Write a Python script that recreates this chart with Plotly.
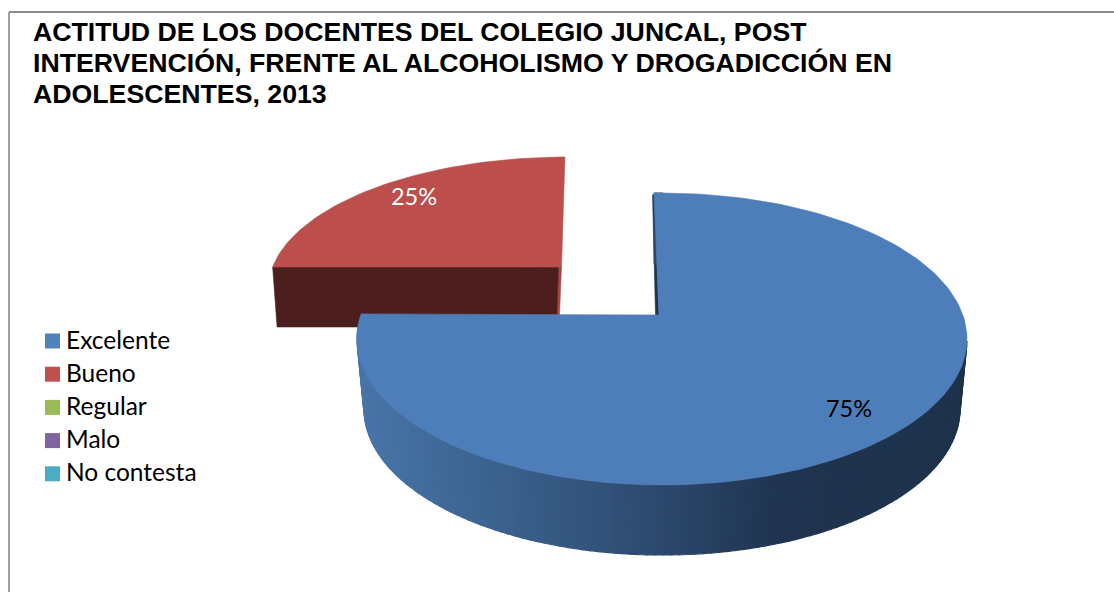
import math
import plotly.graph_objects as go

# ---------- data ----------
categories = ["Excelente", "Bueno", "Regular", "Malo", "No contesta"]
percentages = [75, 25, 0, 0, 0]
legend_colors = ["#4F81BD", "#C0504D", "#9BBB59", "#8064A2", "#4BACC6"]
title_lines = [
    "ACTITUD DE LOS DOCENTES DEL COLEGIO JUNCAL, POST",
    "INTERVENCIÓN, FRENTE AL ALCOHOLISMO Y DROGADICCIÓN EN",
    "ADOLESCENTES, 2013",
]

# ---------- drawing constants (pixel space of the page) ----------
W, H = 1114, 592
TOP_BLUE, TOP_RED = "#4D7EBA", "#BC4F4B"
# ellipse of each pulled slice; the apex sits above the ellipse centre because of the perspective
BLUE = dict(cx=662, cy=339, rx=305, ry=146, lx=298 / 305, wall=70, apex=(659, 315), start=-1.5, end=279.9)
RED = dict(cx=567, cy=289, rx=298.5, ry=132, lx=0.985, wall=60, apex=(561.5, 267), start=279.6, end=359.6)


def point(g, phi):
    t = math.radians(phi)
    return g["cx"] + g["rx"] * math.sin(t), g["cy"] - g["ry"] * math.cos(t)


def project(g, frac):
    """frac = 0..1 along the slice's own arc, set by the slice's value."""
    return point(g, g["start"] + (g["end"] - g["start"]) * frac)


def wall_pt(g, p):
    return g["cx"] + (p[0] - g["cx"]) * g["lx"], p[1] + g["wall"]


def poly(pts, color, width=0.6):
    xs = [p[0] for p in pts] + [pts[0][0]]
    ys = [p[1] for p in pts] + [pts[0][1]]
    return go.Scatter(
        x=xs, y=ys, mode="lines", fill="toself", fillcolor=color,
        line=dict(color=color, width=width),
        hoverinfo="skip", showlegend=False,
    )


def lerp(a, b, t):
    return tuple(int(round(a[i] + (b[i] - a[i]) * t)) for i in range(3))


def shade(x):
    stops = [(360, (72, 116, 168)), (480, (60, 100, 144)), (640, (46, 76, 114)),
             (780, (31, 52, 79)), (970, (30, 50, 76))]
    for (x0, c0), (x1, c1) in zip(stops, stops[1:]):
        if x <= x1:
            t = max(0, (x - x0) / (x1 - x0))
            return "rgb(%d,%d,%d)" % lerp(c0, c1, t)
    return "rgb(30,50,76)"


fig = go.Figure()

# number of arc steps follows each slice's share
total = sum(percentages)
blue_steps = int(round(240 * percentages[0] / total))
red_steps = int(round(240 * percentages[1] / total))
blue_arc = [project(BLUE, i / blue_steps) for i in range(blue_steps + 1)]
red_arc = [project(RED, i / red_steps) for i in range(red_steps + 1)]

# red slice: inner sliver, front cut wall, top
r_left = red_arc[0]
r_apex = RED["apex"]
fig.add_trace(poly([r_apex, (r_apex[0] - 2.5, r_apex[1] + RED["wall"]),
                    (r_apex[0] - 5, r_apex[1] + RED["wall"]), (r_apex[0] - 3, r_apex[1])], "#A84845"))
fig.add_trace(poly([r_left, (r_apex[0] - 3, r_apex[1]), (r_apex[0] - 5, r_apex[1] + RED["wall"]),
                    wall_pt(RED, r_left)], "#4C1F1E"))
fig.add_trace(poly([r_apex] + red_arc, TOP_RED))

# blue slice: inner sliver, curved wall split in shaded strips, top
b_apex = BLUE["apex"]
b_back = blue_arc[0]
fig.add_trace(poly([(b_back[0], b_back[1] + 2), b_apex, (b_apex[0] - 3.5, b_apex[1]),
                    (b_back[0] - 1.5, b_back[1] + 2)], "#1F344F"))
for p0, p1 in zip(blue_arc[:-1], blue_arc[1:]):
    if p0[1] < BLUE["cy"]:
        if p0[0] > BLUE["cx"]:
            continue
    fig.add_trace(poly([p0, p1, wall_pt(BLUE, p1), wall_pt(BLUE, p0)],
                       shade((p0[0] + p1[0]) / 2), width=1.2))
fig.add_trace(poly([b_apex] + blue_arc, TOP_BLUE))

# value labels
fig.add_trace(go.Scatter(
    x=[849, 414], y=[411, 199], mode="text",
    text=[f"{percentages[0]}%", f"{percentages[1]}%"],
    textfont=dict(family="Lato", size=23.5, color=["#000000", "#FFFFFF"]),
    hoverinfo="skip", showlegend=False,
))

# legend, set out as keyed rows
legend_rows = [341 + 33.2 * i for i in range(len(categories))]
fig.add_trace(go.Scatter(
    x=[52.5] * len(categories), y=legend_rows, mode="markers",
    marker=dict(symbol="square", size=15, color=legend_colors, line=dict(width=0)),
    hovertext=categories, hoverinfo="text", showlegend=False,
))
fig.add_trace(go.Scatter(
    x=[66] * len(categories), y=[r + 1.5 for r in legend_rows], mode="text",
    text=categories, textposition="middle right",
    textfont=dict(family="Lato", size=24.5, color="#000000"),
    hoverinfo="skip", showlegend=False,
))

fig.update_layout(
    width=W, height=H,
    margin=dict(l=0, r=0, t=0, b=0),
    paper_bgcolor="#FFFFFF", plot_bgcolor="#FFFFFF",
    showlegend=False,
    xaxis=dict(range=[0, W], visible=False, fixedrange=True),
    yaxis=dict(range=[H, 0], visible=False, fixedrange=True),
    annotations=[
        dict(text=line, x=30.5, y=yy, xref="x", yref="y", xanchor="left", yanchor="middle",
             align="left", showarrow=False,
             font=dict(family="Liberation Sans", size=26.7, color="#000000", weight="bold"))
        for line, yy in zip(title_lines, [31.5, 62.5, 93.5])
    ],
    shapes=[
        dict(type="line", xref="x", yref="y", x0=9, x1=W, y0=12, y1=12, line=dict(color="#8C8C8C", width=2)),
        dict(type="line", xref="x", yref="y", x0=9, x1=9, y0=12, y1=H, line=dict(color="#A0A0A0", width=2)),
    ],
)

fig.write_html(
    "out.html",
    config=dict(displayModeBar=False),
    post_script="document.body.style.margin='0';document.documentElement.style.overflow='hidden';",
)
